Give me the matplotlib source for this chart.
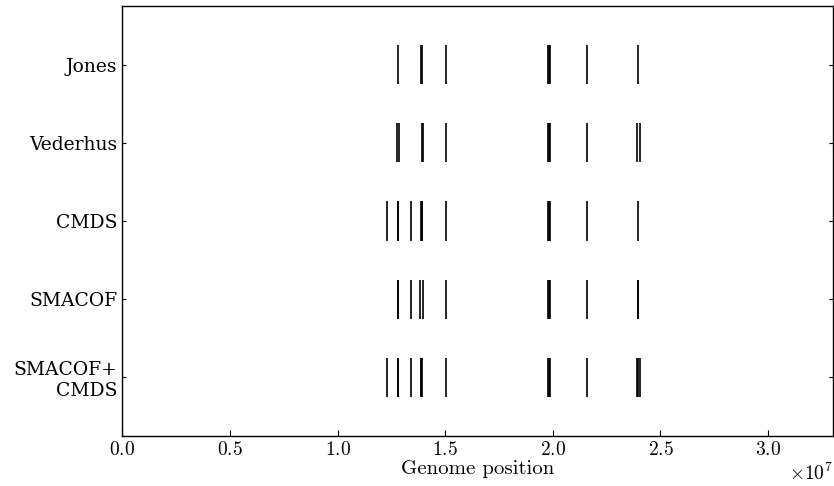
import matplotlib
matplotlib.use('Agg')
import matplotlib.pyplot as plt
import numpy as np

plt.rcParams['mathtext.fontset'] = 'cm'
plt.rcParams['axes.formatter.use_mathtext'] = True

# detected positions per method (bp)
methods = ['Jones', 'Vederhus', 'CMDS', 'SMACOF', 'SMACOF+\nCMDS']
jones = [12810000, 13880000, 13920000, 15060000, 19780000, 19820000, 19860000,
         21610000, 23960000]
vederhus = [12780000, 12840000, 13910000, 13950000, 15030000, 19780000, 19820000,
            19860000, 21610000, 23930000, 24050000]
cmds = [12320000, 12790000, 12830000, 13390000, 13860000, 13910000, 13940000,
        15030000, 19785000, 19820000, 19855000, 21610000, 23960000]
smacof = [12800000, 12820000, 13390000, 13850000, 13970000, 15060000, 19785000,
          19820000, 19855000, 21610000, 23950000, 23970000]
smacof_cmds = [12320000, 12790000, 12820000, 13390000, 13860000, 13900000, 13940000,
               15030000, 19785000, 19820000, 19855000, 21610000, 23930000, 23960000,
               24040000]
genome_length = 33000000

fig = plt.figure(figsize=(8.34, 4.86), dpi=100)
ax = fig.add_axes([0.1466, 0.1029, 0.8518, 0.8848])

events = [jones, vederhus, cmds, smacof, smacof_cmds]
ax.eventplot(events, lineoffsets=np.arange(len(events)), linelengths=0.5,
             linewidths=1.2, colors='black')

ax.set_xlim(0, genome_length)
ax.set_ylim(4.75, -0.75)
ax.set_yticks(np.arange(len(methods)))
ax.set_yticklabels(methods, family='DejaVu Serif', fontsize=13.5)
ax.ticklabel_format(axis='x', style='sci', scilimits=(7, 7))
off = ax.xaxis.get_offset_text()
off.set_fontsize(14)
off.set_family('cmr10')

for lab in ax.get_xticklabels():
    lab.set_family('cmr10')
    lab.set_fontsize(14)
ax.set_xlabel('Genome position', family='cmr10', fontsize=15, labelpad=1)

ax.tick_params(axis='x', direction='in', length=4, top=False)
ax.tick_params(axis='y', direction='in', length=3, right=True)
for s in ax.spines.values():
    s.set_linewidth(1.0)

fig.savefig('out.png', dpi=100)
